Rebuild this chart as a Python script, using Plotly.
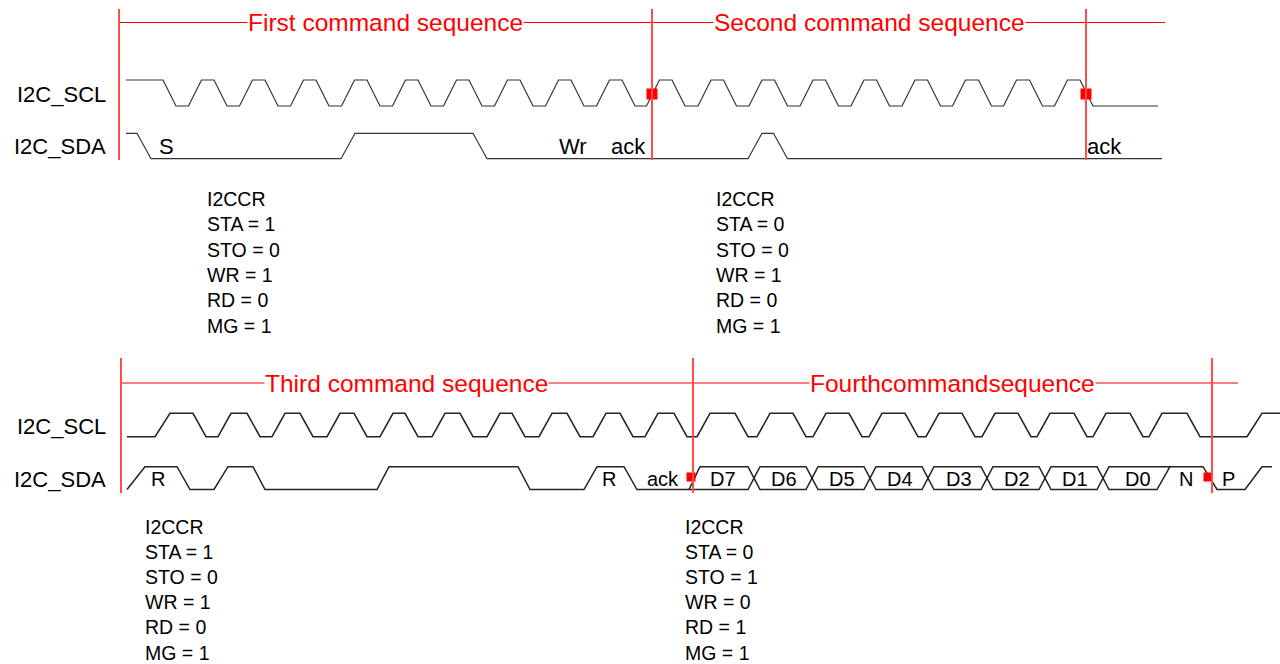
import plotly.graph_objects as go

# ---------------- data ----------------
signal_names = ["I2C_SCL", "I2C_SDA"]

# Top diagram (first / second command sequence)
top_titles = ["First command sequence", "Second command sequence"]
top_title_t = [385, 869.5]
top_bounds = [119, 652, 1086]
top_seq_end = 1165
top_marker_t = [652, 1086]

top_scl_span = [126, 1158]
top_scl_level0 = 1
top_scl_edges = [169.5, 195, 220.5, 246, 271.5, 297, 322.5, 348, 373.5, 399,
                 424.5, 450, 475.5, 501, 526.5, 552, 577.5, 603, 628.5, 653,
                 678.5, 704.5, 730, 755.5, 781, 806.5, 832, 857.5, 883, 908.5,
                 934, 959, 985, 1010, 1036, 1061, 1086.5]
top_sda_span = [126, 1162]
top_sda_level0 = 1
top_sda_edges = [144, 348, 480, 755, 780.5]
top_sda_labels = ["S", "Wr", "ack", "ack"]
top_sda_label_t = [166, 573, 628, 1104]

# Bottom diagram (third / fourth command sequence)
bot_titles = ["Third command sequence", "Fourthcommandsequence"]
bot_title_t = [406.5, 952.5]
bot_bounds = [121, 693, 1212]
bot_seq_end = 1238
bot_marker_t = [691, 1208]

bot_scl_span = [127, 1280]
bot_scl_level0 = 0
bot_scl_edges = [(155, 170), (193, 206), (218, 231), (247, 260), (272, 285),
                 (300, 313), (327, 340), (354, 367), (380, 393), (405, 418),
                 (432, 445), (460, 473), (487, 500), (512, 525), (539, 552),
                 (567, 580), (593, 606), (620, 633), (645, 658), (674, 687),
                 (697, 710), (735, 748), (757, 770), (793, 806), (813, 826),
                 (849, 862), (869, 882), (905, 918), (926, 939), (962, 975),
                 (982, 995), (1018, 1031), (1037, 1050), (1074, 1087),
                 (1093, 1106), (1130, 1143), (1149, 1162), (1187, 1200),
                 (1247, 1262)]

bot_sda1_span = [127, 689]
bot_sda1_level0 = 0
bot_sda1_edges = [(127, 145), (177, 190), (214, 228), (253, 265), (377, 389),
                  (518, 530), (584, 597), (624, 637)]
bus_bounds = [689, 754, 812, 870, 928, 987, 1045, 1103, 1170]
bus_labels = ["D7", "D6", "D5", "D4", "D3", "D2", "D1", "D0"]
bot_sda2_span = [1170, 1272]
bot_sda2_level0 = 1
bot_sda2_edges = [(1203, 1217), (1245, 1262)]
bot_sda_labels = ["R", "R", "ack", "N", "P"]
bot_sda_label_t = [158, 609, 663, 1186, 1228]

reg_names = ["I2CCR", "STA", "STO", "WR", "RD", "MG"]
reg_block1 = [None, 1, 0, 1, 0, 1]
reg_block2 = [None, 0, 0, 1, 0, 1]
reg_block3 = [None, 1, 0, 1, 0, 1]
reg_block4 = [None, 0, 1, 0, 1, 1]

# ---------------- layout constants ----------------
FONT = "Liberation Sans, Arial, sans-serif"
TOP = dict(scl=(80, 106), sda=(133.3, 158.7), label_y=(94, 146), title_y=22.5,
           red_top=9, red_bot=160, reg_x=(205, 714), reg_y0=199, reg_step=25.3,
           marker_y=94)
BOT = dict(scl=(413.3, 436.7), sda=(466.7, 489.5), label_y=(426, 479), title_y=383,
           red_top=358, red_bot=493, reg_x=(143, 683), reg_y0=527, reg_step=25.1,
           marker_y=477)

fig = go.Figure()


def wave_xy(span, level0, edges, hi, lo, width=None):
    lv = level0
    def yy(v):
        return hi if v else lo
    xs, ys = [span[0]], [yy(lv)]
    for e in edges:
        if width is not None:
            a, b = e - width / 2, e + width / 2
        else:
            a, b = e
        xs += [a, b]
        ys += [yy(lv), yy(1 - lv)]
        lv = 1 - lv
    xs.append(span[1])
    ys.append(yy(lv))
    return xs, ys


def add_line(xs, ys, color="#333333", width=1.2):
    fig.add_trace(go.Scatter(x=xs, y=ys, mode="lines", hoverinfo="skip",
                             line=dict(color=color, width=width), showlegend=False))


# top waveforms
x, y = wave_xy(top_scl_span, top_scl_level0, top_scl_edges, *TOP["scl"], width=13)
add_line(x, y)
x, y = wave_xy(top_sda_span, top_sda_level0, top_sda_edges, *TOP["sda"], width=14)
add_line(x, y)

# bottom waveforms
x, y = wave_xy(bot_scl_span, bot_scl_level0, bot_scl_edges, *BOT["scl"])
add_line(x, y, "#222222", 1.5)
x, y = wave_xy(bot_sda1_span, bot_sda1_level0, bot_sda1_edges, *BOT["sda"])
add_line(x, y, "#222222", 1.5)
x, y = wave_xy(bot_sda2_span, bot_sda2_level0, bot_sda2_edges, *BOT["sda"])
add_line(x, y, "#222222", 1.5)

# bus (hexagon segments)
hi, lo = BOT["sda"]
mid = (hi + lo) / 2
hw = 6
bx, by = [], []
n = len(bus_labels)
for i in range(n):
    a, b = bus_bounds[i], bus_bounds[i + 1]
    if i == 0:
        top_pts = [(a + 11, hi)]
        bot_pts = [(a, lo)]
        bx += [a, a + 11, None]
        by += [lo, hi, None]
    else:
        top_pts = [(a, mid), (a + hw, hi)]
        bot_pts = [(a, mid), (a + hw, lo)]
    if i == n - 1:
        top_pts.append((b, hi))
        bot_pts += [(b - 13, lo), (b, hi)]
    else:
        top_pts += [(b - hw, hi), (b, mid)]
        bot_pts += [(b - hw, lo), (b, mid)]
    for pts in (top_pts, bot_pts):
        bx += [p[0] for p in pts] + [None]
        by += [p[1] for p in pts] + [None]
add_line(bx, by, "#222222", 1.5)

annotations = []


def txt(t, xx, yy, size, color="black", anchor="center", bg=None, fam=FONT):
    d = dict(x=xx, y=yy, xref="x", yref="y", text=t, showarrow=False,
             font=dict(family=fam, size=size, color=color),
             xanchor=anchor, yanchor="middle")
    if bg:
        d.update(bgcolor=bg, borderpad=0)
    annotations.append(d)


# bus labels
for i, lab in enumerate(bus_labels):
    txt(lab, (bus_bounds[i] + bus_bounds[i + 1]) / 2 + 1, BOT["label_y"][1], 20)

for lab, t in zip(top_sda_labels, top_sda_label_t):
    txt(lab, t, TOP["label_y"][1], 22)
for lab, t in zip(bot_sda_labels, bot_sda_label_t):
    txt(lab, t, BOT["label_y"][1], 20)

# signal names
for D in (TOP, BOT):
    for nm, yy in zip(signal_names, D["label_y"]):
        txt(nm, 108, yy, 22, anchor="right")

# titles
for t, xx in zip(top_titles, top_title_t):
    txt(t, xx, TOP["title_y"], 24.5, color="#ff0000", bg="white")
for t, xx in zip(bot_titles, bot_title_t):
    txt(t, xx, BOT["title_y"], 24.5, color="#ff0000", bg="white")


# register blocks
def reg_block(vals, x0, y0, step):
    for k, (nm, v) in enumerate(zip(reg_names, vals)):
        s = nm if v is None else f"{nm} = {v}"
        txt(s, x0, y0 + k * step, 19.5, anchor="left")


reg_block(reg_block1, TOP["reg_x"][0], TOP["reg_y0"], TOP["reg_step"])
reg_block(reg_block2, TOP["reg_x"][1], TOP["reg_y0"], TOP["reg_step"])
reg_block(reg_block3, BOT["reg_x"][0], BOT["reg_y0"], BOT["reg_step"])
reg_block(reg_block4, BOT["reg_x"][1], BOT["reg_y0"], BOT["reg_step"])

# red lines
shapes = []
for D, bounds, end in ((TOP, top_bounds, top_seq_end), (BOT, bot_bounds, bot_seq_end)):
    shapes.append(dict(type="line", xref="x", yref="y", x0=bounds[0], x1=end,
                       y0=D["title_y"], y1=D["title_y"], line=dict(color="#ff0000", width=1)))
    for b in bounds:
        shapes.append(dict(type="line", xref="x", yref="y", x0=b, x1=b,
                           y0=D["red_top"], y1=D["red_bot"],
                           line=dict(color="#ff4d4d", width=2)))

# red markers
fig.add_trace(go.Scatter(x=top_marker_t, y=[TOP["marker_y"]] * 2, mode="markers",
                         marker=dict(symbol="square", size=11, color="#ff0000"),
                         hoverinfo="skip", showlegend=False))
fig.add_trace(go.Scatter(x=bot_marker_t, y=[BOT["marker_y"]] * 2, mode="markers",
                         marker=dict(symbol="square", size=9, color="#ff0000"),
                         hoverinfo="skip", showlegend=False))

fig.update_layout(
    width=1280, height=664, margin=dict(l=0, r=0, t=0, b=0),
    paper_bgcolor="white", plot_bgcolor="white",
    xaxis=dict(range=[0, 1280], visible=False, fixedrange=True),
    yaxis=dict(range=[664, 0], visible=False, fixedrange=True),
    shapes=shapes, annotations=annotations,
)
fig.write_html("out.html", config={"displayModeBar": False},
               post_script="document.body.style.margin='0';document.body.style.overflow='hidden';")
